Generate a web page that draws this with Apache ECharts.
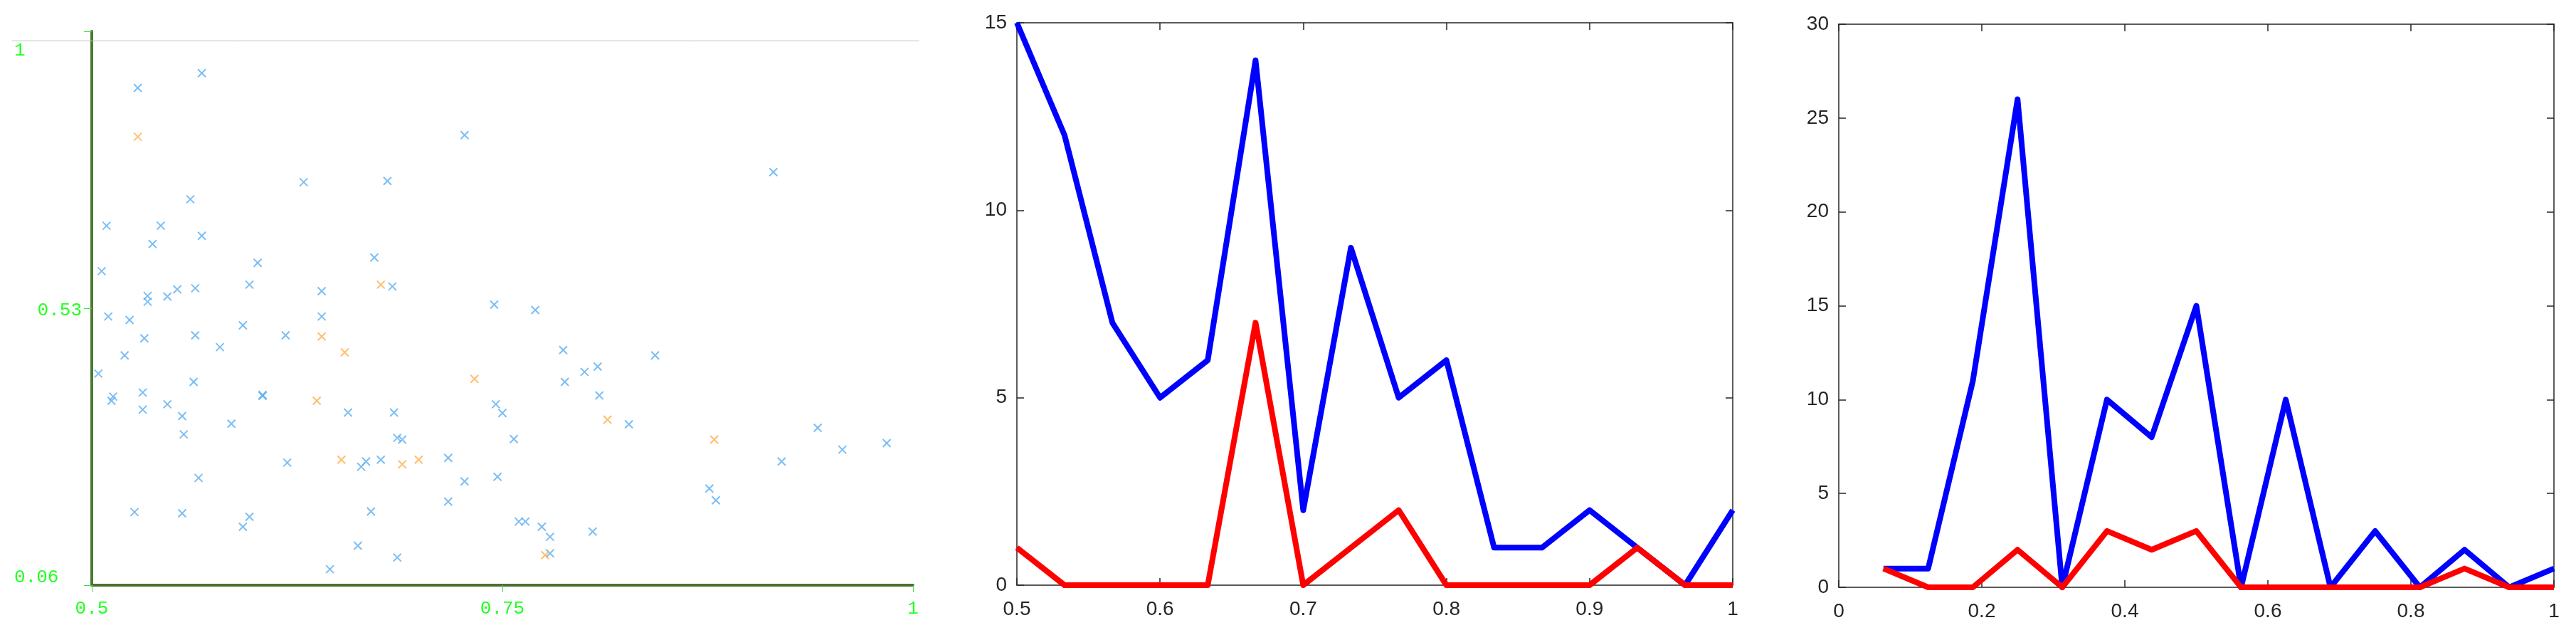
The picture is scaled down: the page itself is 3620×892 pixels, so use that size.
<!DOCTYPE html>
<html>
<head>
<meta charset="utf-8">
<script src="https://cdn.jsdelivr.net/npm/echarts@6/dist/echarts.min.js"></script>
<style>
html,body{margin:0;padding:0;background:#fff;}
#c{width:3620px;height:892px;}
</style>
</head>
<body>
<div id="c"></div>
<script>
// Panel 1: scatter
const blueX = [0.567,0.528,0.727,0.915,0.629,0.680,0.560,0.509,0.542,0.567,0.537,0.672,0.601,0.506,0.596,0.683,0.552,0.563,0.640,0.534,0.534,0.546,0.745,0.770,0.510,0.640,0.523,0.592,0.532,0.563,0.618,0.578,0.787,0.520,0.843,0.808,0.800,0.504,0.562,0.788,0.531,0.604,0.604,0.513,0.512,0.809,0.546,0.746,0.531,0.555,0.656,0.684,0.750,0.585,0.827,0.942,0.556,0.686,0.689,0.757,0.984,0.957,0.717,0.676,0.667,0.664,0.619,0.920,0.565,0.747,0.727,0.876,0.880,0.717,0.526,0.555,0.670,0.596,0.592,0.760,0.764,0.774,0.779,0.805,0.662,0.779,0.686,0.645];
const blueY = [0.929,0.904,0.824,0.761,0.744,0.746,0.715,0.670,0.670,0.653,0.639,0.616,0.607,0.593,0.570,0.567,0.562,0.564,0.559,0.551,0.541,0.550,0.536,0.527,0.516,0.516,0.510,0.501,0.479,0.484,0.484,0.464,0.459,0.450,0.450,0.431,0.422,0.419,0.405,0.405,0.387,0.383,0.381,0.380,0.373,0.382,0.367,0.367,0.358,0.347,0.353,0.353,0.352,0.334,0.333,0.327,0.316,0.310,0.307,0.308,0.301,0.290,0.276,0.273,0.270,0.261,0.268,0.270,0.242,0.244,0.236,0.224,0.204,0.202,0.184,0.182,0.185,0.176,0.159,0.168,0.168,0.159,0.142,0.151,0.127,0.114,0.107,0.087];
const orangeX = [0.528,0.676,0.640,0.654,0.733,0.637,0.814,0.879,0.652,0.689,0.699,0.776];
const orangeY = [0.821,0.570,0.482,0.455,0.410,0.373,0.341,0.307,0.273,0.265,0.273,0.111];
const scatterXTicks = [0.5, 0.75, 1];
const scatterYTicks = ['0.06', '0.53', '1'];

// Panel 2
const p2X = [0.5,0.5333,0.5667,0.6,0.6333,0.6667,0.7,0.7333,0.7667,0.8,0.8333,0.8667,0.9,0.9333,0.9667,1.0];
const p2Blue = [15,12,7,5,6,14,2,9,5,6,1,1,2,1,0,2];
const p2Red  = [1,0,0,0,0,7,0,1,2,0,0,0,0,1,0,0];

// Panel 3
const p3X = [0.0625,0.125,0.1875,0.25,0.3125,0.375,0.4375,0.5,0.5625,0.625,0.6875,0.75,0.8125,0.875,0.9375,1.0];
const p3Blue = [1,1,11,26,0,10,8,15,0,10,0,3,0,2,0,1];
const p3Red  = [1,0,0,2,0,3,2,3,0,0,0,0,0,1,0,0];

const zip = (xs, ys) => xs.map((x, i) => [x, ys[i]]);
const GREEN = '#22ff22';
const MONO = '"Liberation Mono","DejaVu Sans Mono",monospace';
const SANS = '"Liberation Sans",Arial,sans-serif';
const XSYM = 'path://M0,0L10,10M10,0L0,10';

function mkLine() { return {show: true, onZero: false, lineStyle: {color: '#262626', width: 1.5}}; }
function mkTick() { return {show: true, inside: true, length: 10, lineStyle: {color: '#262626', width: 1.5}}; }
function mkLbl(margin) { return {show: true, margin: margin, color: '#262626', fontSize: 28, fontFamily: SANS}; }

function boxAxes(gi, xmin, xmax, xint, ymin, ymax, yint) {
  return {
    x: [
      {type: 'value', gridIndex: gi, position: 'bottom', min: xmin, max: xmax, interval: xint,
       axisLine: mkLine(), axisTick: mkTick(), splitLine: {show: false}, axisLabel: mkLbl(20)},
      {type: 'value', gridIndex: gi, position: 'top', min: xmin, max: xmax, interval: xint,
       axisLine: mkLine(), axisTick: mkTick(), splitLine: {show: false}, axisLabel: {show: false}}
    ],
    y: [
      {type: 'value', gridIndex: gi, position: 'left', min: ymin, max: ymax, interval: yint,
       axisLine: mkLine(), axisTick: mkTick(), splitLine: {show: false}, axisLabel: mkLbl(14)},
      {type: 'value', gridIndex: gi, position: 'right', min: ymin, max: ymax, interval: yint,
       axisLine: mkLine(), axisTick: mkTick(), splitLine: {show: false}, axisLabel: {show: false}}
    ]
  };
}

const b2 = boxAxes(2, 0.5, 1, 0.1, 0, 15, 5);
const b3 = boxAxes(3, 0, 1, 0.2, 0, 30, 5);

const lineSeries = (xi, xs, ys, color) => ({
  type: 'line', xAxisIndex: xi, yAxisIndex: xi, data: zip(xs, ys), showSymbol: false, clip: false,
  lineStyle: {color: color, width: 8, join: 'round', cap: 'butt'}, emphasis: {disabled: true}
});

const option = {
  animation: false,
  backgroundColor: '#ffffff',
  grid: [
    {left: 129, top: 44, width: 1154, height: 778},
    {left: 17, top: 47, width: 1274, height: 10},
    {left: 1429, top: 32, width: 1006, height: 790},
    {left: 2584, top: 34, width: 1005, height: 791}
  ],
  xAxis: [
    {type: 'value', gridIndex: 0, min: scatterXTicks[0], max: scatterXTicks[2], interval: 0.25,
     axisLine: {show: true, lineStyle: {color: '#4a6f2e', width: 4}},
     axisTick: {show: true, length: 10, lineStyle: {color: '#44dd44', width: 1}},
     splitLine: {show: false},
     axisLabel: {color: GREEN, fontSize: 26, fontFamily: MONO, margin: 20,
       formatter: v => String(v)}},
    {type: 'value', gridIndex: 1, position: 'top', min: 0, max: 1,
     axisLine: {show: true, lineStyle: {color: '#bdbdbd', width: 1}},
     axisTick: {show: false}, axisLabel: {show: false}, splitLine: {show: false}},
    b2.x[0], b2.x[1], b3.x[0], b3.x[1]
  ],
  yAxis: [
    {type: 'value', gridIndex: 0, min: 0.06, max: 1, interval: 0.47,
     axisLine: {show: true, lineStyle: {color: '#4a7a30', width: 4}},
     axisTick: {show: true, length: 11, lineStyle: {color: '#44dd44', width: 1}},
     splitLine: {show: false},
     axisLabel: {color: GREEN, fontSize: 26, fontFamily: MONO, margin: 109, align: 'left',
       formatter: v => {
         if (v > 0.9) return '{top|' + scatterYTicks[2] + '}';
         if (v < 0.1) return '{bot|' + scatterYTicks[0] + '}';
         return '{mid|' + scatterYTicks[1] + '}';
       },
       rich: {
         top: {color: GREEN, fontSize: 26, fontFamily: MONO, padding: [54, 0, 0, 0]},
         bot: {color: GREEN, fontSize: 26, fontFamily: MONO, padding: [0, 0, 22, 0]},
         mid: {color: GREEN, fontSize: 26, fontFamily: MONO, width: 95, align: 'right', padding: [6, 0, 0, 0]}
       }}},
    {type: 'value', gridIndex: 1, show: false, min: 0, max: 1},
    b2.y[0], b2.y[1], b3.y[0], b3.y[1]
  ],
  series: [
    {type: 'scatter', xAxisIndex: 0, yAxisIndex: 0, data: zip(blueX, blueY),
     symbol: XSYM, symbolSize: 11,
     itemStyle: {color: '#5aaef2', borderColor: '#5aaef2', borderWidth: 2}, emphasis: {disabled: true}},
    {type: 'scatter', xAxisIndex: 0, yAxisIndex: 0, data: zip(orangeX, orangeY),
     symbol: XSYM, symbolSize: 11,
     itemStyle: {color: '#ffae4a', borderColor: '#ffae4a', borderWidth: 2}, emphasis: {disabled: true}},
    lineSeries(2, p2X, p2Blue, '#0000ff'),
    lineSeries(2, p2X, p2Red, '#ff0000'),
    lineSeries(4, p3X, p3Blue, '#0000ff'),
    lineSeries(4, p3X, p3Red, '#ff0000')
  ]
};

const chart = echarts.init(document.getElementById('c'), null, {renderer: 'canvas'});
chart.setOption(option);
</script>
</body>
</html>
